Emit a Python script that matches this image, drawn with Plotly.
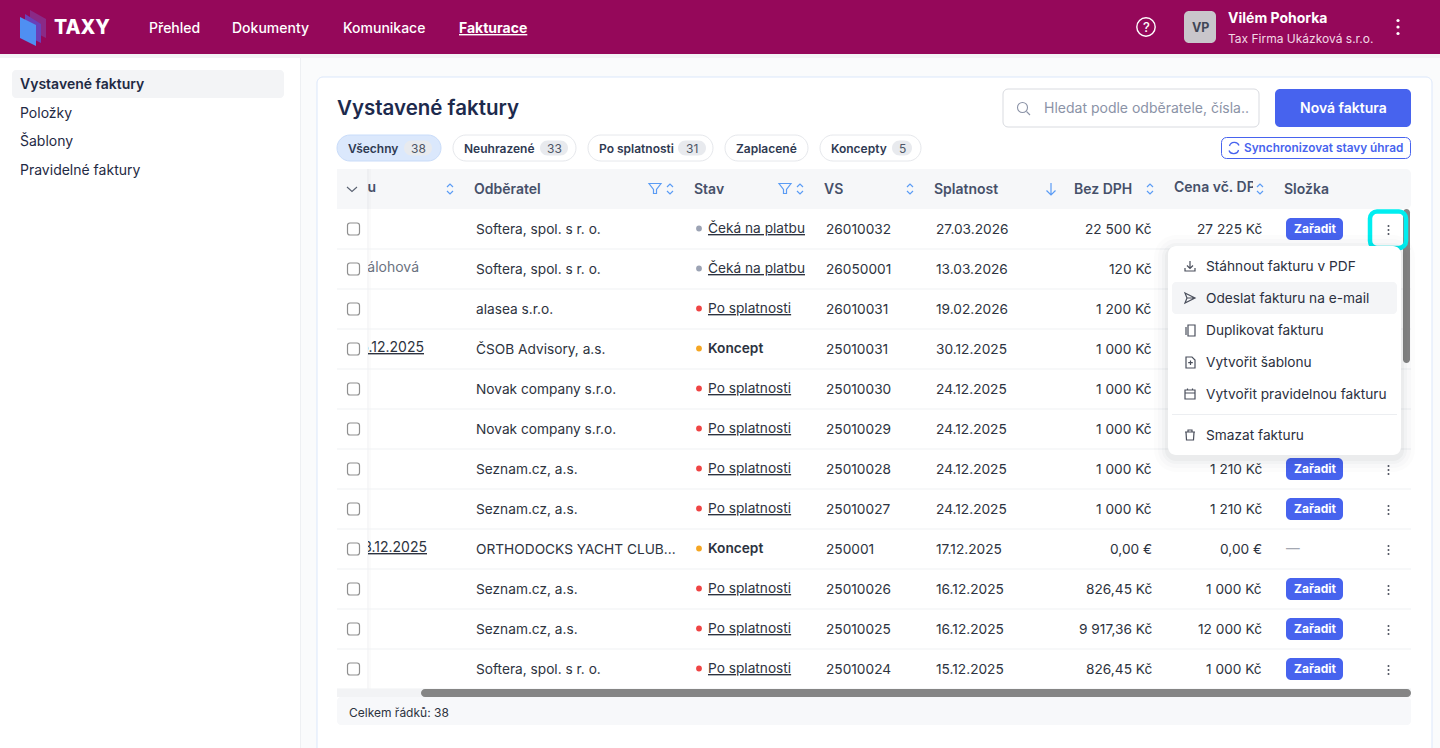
import plotly.graph_objects as go

# table content
customers = ["Softera, spol. s r. o.", "Softera, spol. s r. o.", "alasea s.r.o.", "ČSOB Advisory, a.s.",
             "Novak company s.r.o.", "Novak company s.r.o.", "Seznam.cz, a.s.", "Seznam.cz, a.s.",
             "ORTHODOCKS YACHT CLUB...", "Seznam.cz, a.s.", "Seznam.cz, a.s.", "Softera, spol. s r. o."]
statuses = ["Čeká na platbu", "Čeká na platbu", "Po splatnosti", "Koncept", "Po splatnosti", "Po splatnosti",
            "Po splatnosti", "Po splatnosti", "Koncept", "Po splatnosti", "Po splatnosti", "Po splatnosti"]
vs_numbers = ["26010032", "26050001", "26010031", "25010031", "25010030", "25010029",
              "25010028", "25010027", "250001", "25010026", "25010025", "25010024"]
due_dates = ["27.03.2026", "13.03.2026", "19.02.2026", "30.12.2025", "24.12.2025", "24.12.2025",
             "24.12.2025", "24.12.2025", "17.12.2025", "16.12.2025", "16.12.2025", "15.12.2025"]
net_prices = ["22 500 Kč", "120 Kč", "1 200 Kč", "1 000 Kč", "1 000 Kč", "1 000 Kč",
              "1 000 Kč", "1 000 Kč", "0,00 €", "826,45 Kč", "9 917,36 Kč", "826,45 Kč"]
gross_prices = ["27 225 Kč", None, None, None, None, None,
                "1 210 Kč", "1 210 Kč", "0,00 €", "1 000 Kč", "12 000 Kč", "1 000 Kč"]
folders = ["Zařadit", None, None, None, None, None, "Zařadit", "Zařadit", "—", "Zařadit", "Zařadit", "Zařadit"]
first_col = [None, "Zálohová", None, "15.12.2025", None, None, None, None, "18.12.2025", None, None, None]

nav_items = ["Přehled", "Dokumenty", "Komunikace", "Fakturace"]
side_items = ["Vystavené faktury", "Položky", "Šablony", "Pravidelné faktury"]
chip_labels = ["Všechny", "Neuhrazené", "Po splatnosti", "Zaplacené", "Koncepty"]
chip_counts = ["38", "33", "31", None, "5"]
headers = ["Odběratel", "Stav", "VS", "Splatnost", "Bez DPH", "Cena vč. DPH", "Složka"]
menu_items = ["Stáhnout fakturu v PDF", "Odeslat fakturu na e-mail", "Duplikovat fakturu",
              "Vytvořit šablonu", "Vytvořit pravidelnou fakturu", "Smazat fakturu"]

FONT = "Inter"
TEXT = "#2d3340"
HEAD = "#465069"
BLUE = "#4763ee"
SORT = "#5b9cf5"
WINE = "#95085a"
CELL = 13.7
STATUS_COL = {"Čeká na platbu": "#9ca3b4", "Po splatnosti": "#ef4444", "Koncept": "#f5a623"}

shapes = []
annots = []


def label(x, y, text, size=CELL, color=TEXT, weight=400, anchor="left"):
    # annotations come out about a pixel low
    annots.append(dict(x=x, y=y - 1, text=text, showarrow=False, xanchor=anchor, yanchor="middle",
                       borderpad=0, borderwidth=0,
                       font=dict(family=FONT, size=size, color=color, weight=weight)))


def rrect_path(x0, y0, x1, y1, r):
    k = r * 0.45
    return (f"M{x0+r},{y0} L{x1-r},{y0} C{x1-k},{y0} {x1},{y0+k} {x1},{y0+r} "
            f"L{x1},{y1-r} C{x1},{y1-k} {x1-k},{y1} {x1-r},{y1} "
            f"L{x0+r},{y1} C{x0+k},{y1} {x0},{y1-k} {x0},{y1-r} "
            f"L{x0},{y0+r} C{x0},{y0+k} {x0+k},{y0} {x0+r},{y0} Z")


def box(x0, y0, x1, y1, fill=None, line=None, lw=1, r=0, layer="above"):
    s = dict(type="path", path=rrect_path(x0, y0, x1, y1, r) if r else
             f"M{x0},{y0} L{x1},{y0} L{x1},{y1} L{x0},{y1} Z",
             fillcolor=fill or "rgba(0,0,0,0)", layer=layer,
             line=dict(color=line or "rgba(0,0,0,0)", width=lw if line else 0))
    shapes.append(s)


def poly(path, fill):
    shapes.append(dict(type="path", path=path, fillcolor=fill, layer="above", line=dict(width=0)))


def dot(cx, cy, r, fill=None, line=None, lw=1):
    shapes.append(dict(type="circle", x0=cx-r, x1=cx+r, y0=cy-r, y1=cy+r, layer="above",
                       fillcolor=fill or "rgba(0,0,0,0)",
                       line=dict(color=line or "rgba(0,0,0,0)", width=lw if line else 0)))


def stroke(path, color, lw=1.2):
    shapes.append(dict(type="path", path=path, layer="above", fillcolor="rgba(0,0,0,0)",
                       line=dict(color=color, width=lw)))


def sort_icon(x, y):
    stroke(f"M{x-3},{y-2} L{x},{y-5} L{x+3},{y-2}", SORT)
    stroke(f"M{x-3},{y+2} L{x},{y+5} L{x+3},{y+2}", SORT)


def funnel(x, y):
    stroke(f"M{x-6},{y-5} L{x+6},{y-5} L{x+1.5},{y+1} L{x+1.5},{y+5} L{x-1.5},{y+5} L{x-1.5},{y+1} Z", SORT)


def kebab(x, y, color="#4a4f5c", r=1.0, gap=4):
    for d in (-gap, 0, gap):
        dot(x, y + d, r, fill=color)


# page background, sidebar, card
box(0, 0, 1440, 748, fill="#fafbfc", layer="below")
box(0, 54, 300, 748, fill="#ffffff", layer="below")
box(300, 54, 301, 748, fill="#eef0f3", layer="below")
box(317, 77, 1432, 760, fill="#ffffff", line="#dbe7fb", r=6, layer="below")
box(337, 169, 1411, 209, fill="#f6f7f9", r=5, layer="below")

# top bar
box(0, 54, 1440, 58, fill="#f3f3f5", layer="below")
box(0, 0, 1440, 54, fill=WINE)
poly("M30,10 L46,19 L46,38 L30,30 Z", "#8a2a86")
poly("M25,14 L41,24 L41,43 L25,35 Z", "#6a3fb8")
poly("M20,17 L36,25 L36,46 L20,38 Z", "#4f8ff2")
label(54, 28, "TAXY", size=19.5, color="#ffffff", weight=800)
for x, name in zip((149, 232, 343, 459), nav_items):
    last = name == nav_items[-1]
    label(x, 28.5, f"<u>{name}</u>" if last else name, size=14, color="#ffffff", weight=700 if last else 500)
dot(1146, 27, 9.2, line="#ffffff", lw=1.4)
label(1146, 28, "?", size=13, color="#ffffff", weight=500, anchor="center")
box(1184, 11, 1216, 43, fill="#c9c6cb", r=5)
label(1200, 28, "VP", size=12.5, color="#3f4657", weight=700, anchor="center")
label(1228, 18.5, "Vilém Pohorka", size=14, color="#ffffff", weight=700)
label(1228, 39, "Tax Firma Ukázková s.r.o.", size=12, color="#f3d9e6", weight=400)
kebab(1398, 27, color="#ffffff", r=1.6, gap=6.5)

# sidebar
box(12, 70, 284, 98, fill="#f3f4f6", r=4)
for y, name in zip((84, 113, 141, 170), side_items):
    first = name == side_items[0]
    label(20, y, name, size=14, color="#1f2a44", weight=600 if first else 400)

# card head
label(337, 108.5, "Vystavené faktury", size=20.5, color="#1d2a4d", weight=600)
box(1003, 89, 1259, 127, fill="#ffffff", line="#d9dbe0", r=5)
dot(1022.5, 107.5, 5, line="#8b93a7", lw=1.1)
stroke("M1026.5,111.5 L1030,115", "#8b93a7", lw=1.1)
label(1044, 108.5, "Hledat podle odběratele, čísla..", size=14, color="#8b93a7")
box(1275, 89, 1411, 127, fill=BLUE, r=5)
label(1343, 108.5, "Nová faktura", size=14, color="#ffffff", weight=600, anchor="center")

# filter chips
chip_x = ((337, 441), (453, 576), (588, 713), (725, 808), (820, 921))
count_x = (418, 554, 692, None, 902)
for i, name in enumerate(chip_labels):
    x0, x1 = chip_x[i]
    active = i == 0
    box(x0, 135, x1, 161, fill="#dbe8fc" if active else "#ffffff",
        line="#c9dcf9" if active else "#e6e8ec", r=13)
    label(x0 + 11, 149, name, size=12, color="#2f3a52", weight=600)
    if chip_counts[i]:
        w = 14 if len(chip_counts[i]) == 2 else 10
        box(count_x[i] - w, 140.5, count_x[i] + w, 155.5, fill="#e8eaee", r=7.5)
        label(count_x[i], 149, chip_counts[i], size=12, color="#4f5666", anchor="center")
box(1221.5, 137.5, 1410.5, 158.5, fill="#ffffff", line=BLUE, r=5)
stroke("M1229.5,146 C1230.5,141.5 1237.5,141 1239,145.5", BLUE, lw=1.3)
stroke("M1238.5,150 C1237.5,154.5 1230.5,155 1229,150.5", BLUE, lw=1.3)
label(1244, 149, "Synchronizovat stavy úhrad", size=11.8, color=BLUE, weight=600)

# header row; "Cena vč. DPH" gets cut by the column, so it goes through the text trace
head_x = (474, 694, 824, 934, 1074, 1174, 1284)
for x, name in zip(head_x, headers):
    if name != "Cena vč. DPH":
        label(x, 189.5, name, size=14, color=HEAD, weight=600)

# frozen first column hides the start of the scrolled text
box(337, 209, 368, 689, fill="#ffffff")
box(337, 169, 368, 209, fill="#f6f7f9")
box(1253, 175, 1268, 203, fill="#f6f7f9")
box(367, 169, 369, 689, fill="rgba(30,40,60,0.035)")
box(369, 169, 371, 689, fill="rgba(30,40,60,0.02)")
stroke("M347,187 L352,191.5 L357,187", "#5a6272", lw=1.1)
for x in (450, 670, 800, 910, 1150, 1260):
    sort_icon(x, 189)
funnel(655, 188.5)
funnel(785, 188.5)
stroke("M1051,183 L1051,195 M1046.5,190.5 L1051,195 L1055.5,190.5", SORT, lw=1.2)

# rows
first_y = 229
step = 40
for i in range(len(customers)):
    y = first_y + i * step
    box(337, y + 19.5, 1411, y + 20.5, fill="#f0f1f4")
    box(347.5, y - 6, 359.5, y + 6, fill="#ffffff", line="#8f8f8f", lw=1.2, r=2.5)
    label(476, y + 0.5, customers[i])
    st = statuses[i]
    dot(699, y - 0.5, 2.9, fill=STATUS_COL[st])
    if st == "Koncept":
        label(708, y, st, weight=600)
    else:
        label(708, y, f"<u>{st}</u>")
    label(826, y + 0.5, vs_numbers[i])
    label(936, y + 0.5, due_dates[i])
    label(1152, y + 0.5, net_prices[i], anchor="right")
    if gross_prices[i]:
        label(1262, y + 0.5, gross_prices[i], anchor="right")
    if folders[i] == "Zařadit":
        box(1286, y - 11, 1343, y + 11, fill=BLUE, r=5)
        label(1314.5, y + 0.5, folders[i], size=12, color="#ffffff", weight=700, anchor="center")
    elif folders[i]:
        label(1286, y, folders[i], color="#a4a8b2")
    if gross_prices[i] or i == 0:
        kebab(1388.5, y + 1)

# scrollbars and footer
box(337, 689, 1411, 697, fill="#f2f3f5")
box(421, 689, 1411, 697, fill="#858585", r=4)
box(337, 697, 1411, 725, fill="#f7f8fa", r=4)
label(349, 713, "Celkem řádků: 38", size=12, color="#2d3340")
box(1403, 209, 1410, 363, fill="#858585", r=3.5)

# focus ring
box(1370, 211.5, 1406, 248, line="#00eef0", lw=4.5, r=7)

# context menu
for grow, alpha in ((14, 0.01), (10, 0.016), (6, 0.024), (3, 0.03)):
    box(1168 - grow, 246 - grow + 3, 1401 + grow, 455 + grow + 3, fill=f"rgba(20,25,40,{alpha})", r=8 + grow)
box(1168, 246, 1401, 455, fill="#ffffff", r=8)
box(1172, 282, 1397, 314, fill="#f4f5f7", r=4)
box(1172, 414, 1397, 415, fill="#eceef1")
menu_y = (267, 299, 331, 363, 395, 436)
for y, name in zip(menu_y, menu_items):
    label(1206, y, name, color="#2b3040")
MI = "#4a4f5c"
stroke("M1190,261 L1190,268 M1187,265.5 L1190,268.5 L1193,265.5 M1185,268 L1185,271 L1195,271 L1195,268", MI)
stroke("M1185,293 L1195,298 L1185,303 L1187,298 Z M1187,298 L1195,298", MI)
stroke("M1188,325 L1195,325 L1195,336 L1188,336 Z M1186,327 L1186,335", MI)
stroke("M1186,357 L1192,357 L1195,360 L1195,368 L1186,368 Z M1190.5,360.5 L1190.5,365 M1188.2,362.7 L1192.8,362.7", MI)
stroke("M1185,390 L1195,390 L1195,399 L1185,399 Z M1185,393 L1195,393 M1187.5,388.5 L1187.5,390 M1192.5,388.5 L1192.5,390", MI)
stroke("M1186,432 L1194,432 L1193.5,440 L1186.5,440 Z M1185,432 L1195,432 M1188,432 L1188,430 L1192,430 L1192,432", MI)

# text that the frozen column clips has to sit under the shapes, so a trace and not annotations
fig = go.Figure()
fig.add_trace(go.Scatter(x=[1174], y=[188.5], text=[headers[5]], mode="text", textposition="middle right",
                         textfont=dict(family=FONT, size=14, color=HEAD, weight=600), hoverinfo="skip"))
fig.add_trace(go.Scatter(x=[376], y=[188.5], text=["Typu"], mode="text", textposition="middle left",
                         textfont=dict(family=FONT, size=14, color=HEAD, weight=600), hoverinfo="skip"))
rows = [i for i, t in enumerate(first_col) if t]
row_right = {"Zálohová": 419, "15.12.2025": 424, "18.12.2025": 427}
fig.add_trace(go.Scatter(x=[row_right[first_col[i]] for i in rows], y=[first_y + i * step - 0.5 for i in rows],
                         text=[first_col[i] if first_col[i] == "Zálohová" else f"<u>{first_col[i]}</u>" for i in rows],
                         mode="text", textposition="middle left",
                         textfont=dict(family=FONT, size=14, color=[("#6b7280" if first_col[i] == "Zálohová" else TEXT) for i in rows]),
                         hoverinfo="skip"))

fig.update_layout(width=1440, height=748, margin=dict(l=0, r=0, t=0, b=0), showlegend=False,
                  paper_bgcolor="#ffffff", plot_bgcolor="rgba(0,0,0,0)", shapes=shapes, annotations=annots,
                  xaxis=dict(range=[0, 1440], visible=False, fixedrange=True),
                  yaxis=dict(range=[748, 0], visible=False, fixedrange=True))
fig.write_html("out.html", config=dict(displayModeBar=False),
               post_script="document.body.style.margin='0';document.body.style.overflow='hidden';")
